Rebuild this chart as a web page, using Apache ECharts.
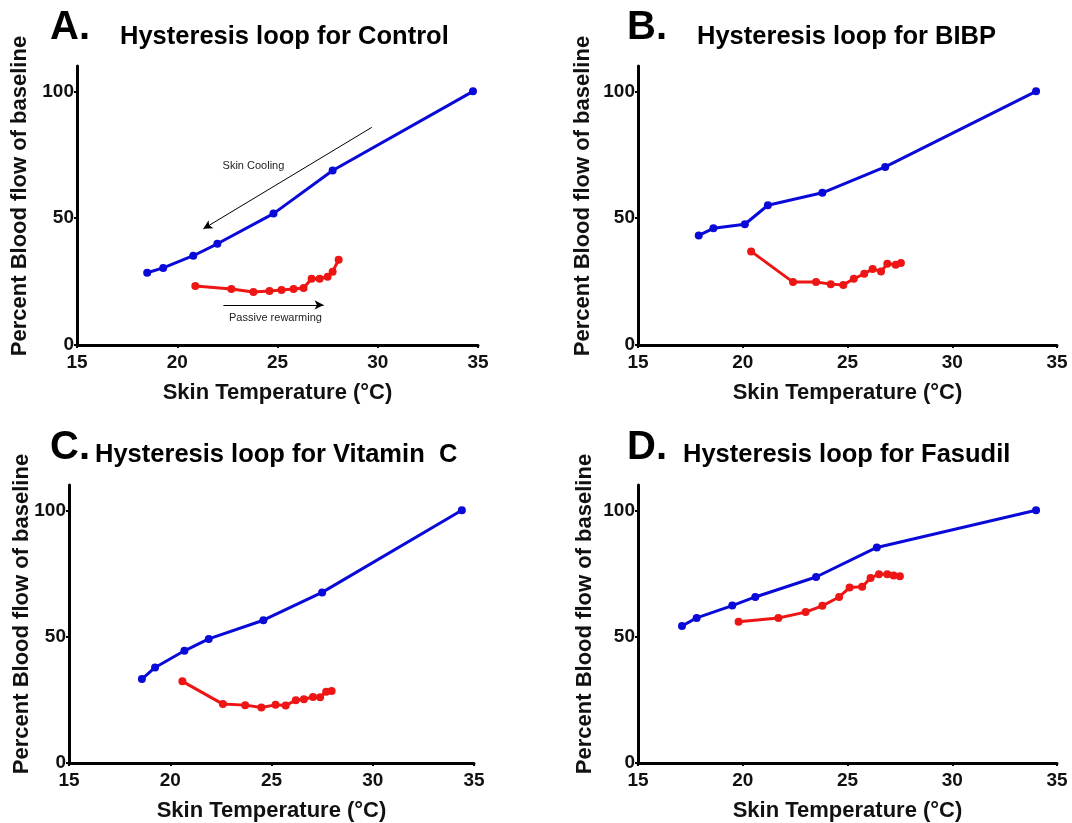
<!DOCTYPE html>
<html>
<head>
<meta charset="utf-8">
<script src="https://cdn.jsdelivr.net/npm/echarts@6/dist/echarts.min.js"></script>
<style>
html,body{margin:0;padding:0;background:#fff;}
#chart{width:1072px;height:823px;}
</style>
</head>
<body>
<div id="chart"></div>
<script>
// ---- data ----
const xTicks = [15, 20, 25, 30, 35];
const yTicks = [0, 50, 100];

const panelLetters = ['A.', 'B.', 'C.', 'D.'];
const panelTitles = ['Hysteresis loop for Control', 'Hysteresis loop for BIBP', 'Hysteresis loop for Vitamin  C', 'Hysteresis loop for Fasudil'];
const xName = 'Skin Temperature (°C)';
const yName = 'Percent Blood flow of baseline';

// Control
const ctrlCoolTemp = [18.5, 19.3, 20.8, 22.0, 24.8, 27.75, 34.75];
const ctrlCoolFlow = [28.5, 30.4, 35.2, 39.9, 51.8, 68.8, 100];
const ctrlWarmTemp = [20.9, 22.7, 23.8, 24.6, 25.2, 25.8, 26.3, 26.7, 27.1, 27.5, 27.75, 28.05];
const ctrlWarmFlow = [23.3, 22.1, 20.9, 21.3, 21.7, 22.1, 22.5, 26.1, 26.1, 26.9, 28.9, 33.6];
// BIBP
const bibpCoolTemp = [17.9, 18.6, 20.1, 21.2, 23.8, 26.8, 34.0];
const bibpCoolFlow = [43.2, 46.0, 47.6, 55.1, 60.0, 70.2, 100];
const bibpWarmTemp = [20.4, 22.4, 23.5, 24.2, 24.8, 25.3, 25.8, 26.2, 26.6, 26.9, 27.3, 27.55];
const bibpWarmFlow = [36.9, 24.8, 24.8, 24.0, 23.7, 26.1, 28.1, 30.0, 29.0, 32.0, 31.6, 32.3];
// Vitamin C
const vitcCoolTemp = [18.6, 19.25, 20.7, 21.9, 24.6, 27.5, 34.4];
const vitcCoolFlow = [33.2, 37.8, 44.4, 49.1, 56.5, 67.5, 100];
const vitcWarmTemp = [20.6, 22.6, 23.7, 24.5, 25.2, 25.7, 26.2, 26.6, 27.05, 27.4, 27.7, 27.97];
const vitcWarmFlow = [32.3, 23.3, 22.9, 22.0, 23.0, 22.8, 24.8, 25.2, 26.1, 26.0, 28.2, 28.5];
// Fasudil
const fasuCoolTemp = [17.1, 17.8, 19.5, 20.6, 23.5, 26.4, 34.0];
const fasuCoolFlow = [54.2, 57.4, 62.3, 65.7, 73.6, 85.3, 100];
const fasuWarmTemp = [19.8, 21.7, 23.0, 23.8, 24.6, 25.1, 25.7, 26.1, 26.5, 26.9, 27.2, 27.5];
const fasuWarmFlow = [55.9, 57.4, 59.7, 62.2, 65.7, 69.4, 69.7, 73.2, 74.7, 74.7, 74.2, 73.9];

// annotations (panel A), in data units
const coolArrow = [[29.7, 85.8], [21.3, 45.8]];
const warmArrow = [[22.3, 15.8], [27.3, 15.8]];
const coolLabel = { text: 'Skin Cooling', at: [23.8, 70.4] };
const warmLabel = { text: 'Passive rewarming', at: [24.9, 10.7] };

// ---- build ----
const zip = (a, b) => a.map((v, i) => [v, b[i]]);
const cool = [zip(ctrlCoolTemp, ctrlCoolFlow), zip(bibpCoolTemp, bibpCoolFlow), zip(vitcCoolTemp, vitcCoolFlow), zip(fasuCoolTemp, fasuCoolFlow)];
const warm = [zip(ctrlWarmTemp, ctrlWarmFlow), zip(bibpWarmTemp, bibpWarmFlow), zip(vitcWarmTemp, vitcWarmFlow), zip(fasuWarmTemp, fasuWarmFlow)];

const FONT = '"Liberation Sans", Arial, sans-serif';
const BLUE = '#0a0ad8';
const RED = '#ee1515';

const grids = [
  { left: 77, right: 594, top: 66, bottom: 478 },
  { left: 638, right: 15, top: 66, bottom: 478 },
  { left: 69, right: 598, top: 485, bottom: 60 },
  { left: 638, right: 15, top: 485, bottom: 60 }
];

const xAxes = grids.map((g, i) => ({
  type: 'value', gridIndex: i, min: 15, max: 35, interval: 5,
  name: xName, nameLocation: 'middle', nameGap: 37,
  nameTextStyle: { fontFamily: FONT, fontWeight: 'bold', fontSize: 22, color: '#111' },
  axisLine: { show: true, onZero: false, lineStyle: { color: '#000', width: 3 } },
  axisTick: { show: true, length: 3, lineStyle: { color: '#000', width: 2 } },
  axisLabel: { fontFamily: FONT, fontWeight: 'bold', fontSize: 19, color: '#111', margin: 8,
    customValues: xTicks },
  splitLine: { show: false }
}));

const yAxes = grids.map((g, i) => ({
  type: 'value', gridIndex: i, min: 0, max: 110, interval: 50,
  axisLine: { show: true, onZero: false, lineStyle: { color: '#000', width: 3 } },
  axisTick: { show: true, length: 3, lineStyle: { color: '#000', width: 2 }, customValues: yTicks },
  axisLabel: { fontFamily: FONT, fontWeight: 'bold', fontSize: 19, color: '#111', margin: 3,
    customValues: yTicks },
  splitLine: { show: false }
}));

const series = [];
for (let i = 0; i < 4; i++) {
  series.push({
    type: 'line', xAxisIndex: i, yAxisIndex: i, data: cool[i],
    symbol: 'circle', symbolSize: 8, showSymbol: true,
    lineStyle: { color: BLUE, width: 3 }, itemStyle: { color: BLUE },
    animation: false, silent: true, z: 3
  });
  const red = {
    type: 'line', xAxisIndex: i, yAxisIndex: i, data: warm[i],
    symbol: 'circle', symbolSize: 8, showSymbol: true,
    lineStyle: { color: RED, width: 3 }, itemStyle: { color: RED },
    animation: false, silent: true, z: 3
  };
  if (i === 0) {
    red.markLine = {
      silent: true, animation: false,
      symbol: ['none', 'arrow'], symbolSize: [7, 9],
      lineStyle: { color: '#000', width: 1, type: 'solid' },
      label: { show: false },
      data: [
        [{ coord: coolArrow[0] }, { coord: coolArrow[1] }],
        [{ coord: warmArrow[0] }, { coord: warmArrow[1] }]
      ]
    };
    red.markPoint = {
      silent: true, animation: false,
      symbol: 'circle', symbolSize: 1,
      itemStyle: { color: 'rgba(0,0,0,0)' },
      label: { show: true, position: 'inside', color: '#222', fontFamily: FONT, fontSize: 11,
        formatter: p => p.name },
      data: [
        { name: coolLabel.text, coord: coolLabel.at },
        { name: warmLabel.text, coord: warmLabel.at }
      ]
    };
  }
  series.push(red);
}

const letterPos = [[50, 28], [627, 28], [50, 448], [627, 448]];
const titlePos = [[120, 37], [697, 37], [95, 455], [683, 455]];
const yNamePos = [[20, 196], [583, 196], [22, 614], [585, 614]];

const graphic = [];
for (let i = 0; i < 4; i++) {
  graphic.push({
    type: 'text', x: letterPos[i][0], y: letterPos[i][1],
    style: { text: panelLetters[i], font: 'bold 40px ' + FONT, fill: '#000',
      align: 'left', verticalAlign: 'middle', textAlign: 'left', textVerticalAlign: 'middle' }
  });
  graphic.push({
    type: 'text', x: titlePos[i][0], y: titlePos[i][1],
    style: { text: panelTitles[i], font: 'bold 25.5px ' + FONT, fill: '#000',
      align: 'left', verticalAlign: 'middle', textAlign: 'left', textVerticalAlign: 'middle' }
  });
  graphic.push({
    type: 'text', x: yNamePos[i][0], y: yNamePos[i][1], rotation: Math.PI / 2,
    style: { text: yName, font: 'bold 22px ' + FONT, fill: '#111',
      align: 'center', verticalAlign: 'middle', textAlign: 'center', textVerticalAlign: 'middle' }
  });
}

const chart = echarts.init(document.getElementById('chart'), null, { renderer: 'canvas' });
chart.setOption({
  backgroundColor: '#fff',
  animation: false,
  grid: grids,
  xAxis: xAxes,
  yAxis: yAxes,
  series: series,
  graphic: graphic
});
</script>
</body>
</html>
